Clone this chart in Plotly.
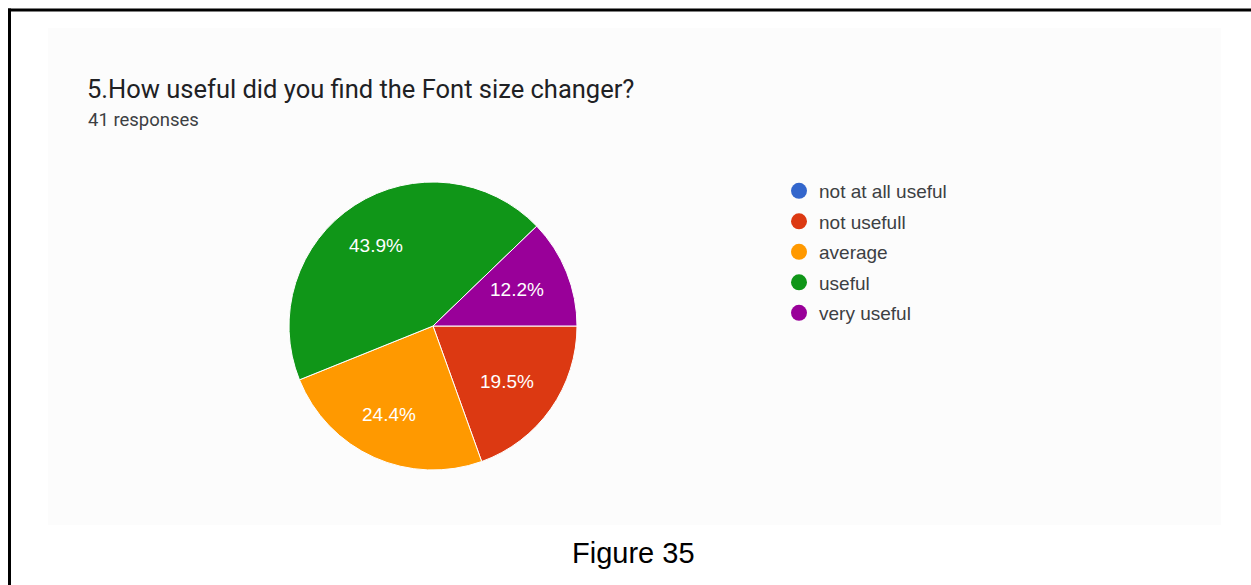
import math
import plotly.graph_objects as go

# Survey results: "How useful did you find the Font size changer?"
categories = ["not at all useful", "not usefull", "average", "useful", "very useful"]
responses = [0, 8, 10, 18, 5]
colors = ["#3366cc", "#dc3912", "#ff9900", "#109618", "#990099"]

W, H = 1251, 585
# pie placement in pixels
CX, CY, R = 433, 326, 144

fig = go.Figure()

fig.add_trace(go.Pie(
    labels=categories,
    values=responses,
    sort=False,
    direction="clockwise",
    rotation=90,
    marker=dict(colors=colors, line=dict(color="white", width=1)),
    textinfo="none",
    showlegend=False,
    hoverinfo="label+value+percent",
    domain=dict(x=[(CX - R) / W, (CX + R) / W], y=[1 - (CY + R) / H, 1 - (CY - R) / H]),
))

# Legend entries drawn as round markers, one per category
for name, col in zip(categories, colors):
    fig.add_trace(go.Scatter(
        x=[None], y=[None], mode="markers", name=name, legendgroup=name,
        marker=dict(color=col, size=16, symbol="circle"),
    ))

# Percentage labels placed at the middle angle of each slice
total = sum(responses)
annotations = []
cum = 0.0
for v in responses:
    if v > 0:
        mid = (cum + v / 2) / total * 2 * math.pi  # clockwise from 3 o'clock
        px = CX + 0.67 * R * math.cos(mid)
        py = CY + 0.67 * R * math.sin(mid)
        annotations.append(dict(
            text=f"{100 * v / total:.1f}%", xref="paper", yref="paper",
            x=px / W, y=1 - py / H, xanchor="center", yanchor="middle",
            xshift=-5, showarrow=False,
            font=dict(family="Liberation Sans, Arial, sans-serif", size=19, color="white"),
        ))
    cum += v

annotations += [
    dict(text="5.How useful did you find the Font size changer?",
         xref="paper", yref="paper", x=85 / W, y=1 - 89 / H,
         xanchor="left", yanchor="middle", showarrow=False,
         font=dict(family="Roboto, Arial, sans-serif", size=25.5, color="#202124")),
    dict(text="41 responses",
         xref="paper", yref="paper", x=86 / W, y=1 - 120 / H,
         xanchor="left", yanchor="middle", showarrow=False,
         font=dict(family="Roboto, Arial, sans-serif", size=18.5, color="#3c4043")),
    dict(text="Figure 35",
         xref="paper", yref="paper", x=633 / W, y=1 - 553 / H,
         xanchor="center", yanchor="middle", showarrow=False,
         font=dict(family="Liberation Sans, Arial, sans-serif", size=29, color="black")),
]

fig.update_layout(
    width=W, height=H,
    margin=dict(l=0, r=0, t=0, b=0),
    paper_bgcolor="white",
    plot_bgcolor="rgba(0,0,0,0)",
    xaxis=dict(visible=False),
    yaxis=dict(visible=False),
    legend=dict(
        x=779 / W, y=1 - 172 / H, xanchor="left", yanchor="top",
        font=dict(family="Liberation Sans, Arial, sans-serif", size=19, color="#3c4043"),
        tracegroupgap=2.8, itemwidth=30, bgcolor="rgba(0,0,0,0)",
    ),
    shapes=[
        # faint card background
        dict(type="rect", xref="paper", yref="paper",
             x0=48 / W, x1=1221 / W, y0=1 - 525 / H, y1=1 - 28 / H,
             fillcolor="#fcfcfc", line=dict(width=0), layer="below"),
        # frame lines
        dict(type="line", xref="paper", yref="paper",
             x0=8 / W, x1=1, y0=1 - 10 / H, y1=1 - 10 / H,
             line=dict(color="black", width=3)),
        dict(type="line", xref="paper", yref="paper",
             x0=9.5 / W, x1=9.5 / W, y0=0, y1=1 - 8.5 / H,
             line=dict(color="black", width=3)),
    ],
    annotations=annotations,
)

fig.write_html("out.html")
